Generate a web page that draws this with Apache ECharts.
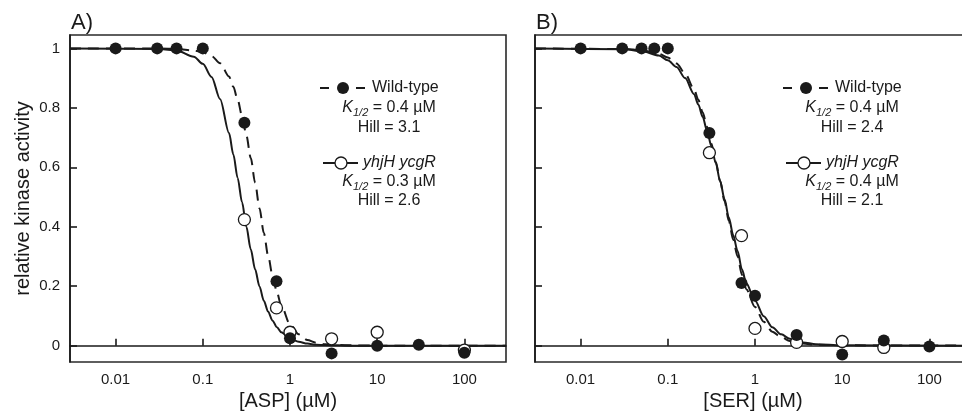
<!DOCTYPE html>
<html>
<head>
<meta charset="utf-8">
<script src="https://cdn.jsdelivr.net/npm/echarts@6.0.0/dist/echarts.min.js"></script>
<style>
html, body { margin: 0; padding: 0; background: #fff; overflow: hidden; }
#main { width: 980px; height: 413px; }
</style>
</head>
<body>
<div id="main"></div>
<script>
var FONT = '"Liberation Sans", Arial, sans-serif';
var INK = '#1a1a1a';

var xTicks = [0.01, 0.1, 1, 10, 100];
var yTicks = [0, 0.2, 0.4, 0.6, 0.8, 1];
var panelNames = ['A)', 'B)'];
var xNames = ['[ASP] (µM)', '[SER] (µM)'];
var seriesNames = ['Wild-type', 'yhjH ycgR'];

// fit parameters printed on the figure
var kHalf = [[0.4, 0.3], [0.4, 0.4]];
var hill = [[3.1, 2.6], [2.4, 2.1]];

// A) ASP - measured points
var aspWtX = [0.01, 0.03, 0.05, 0.1, 0.3, 0.7, 1, 3, 10, 30, 100];
var aspWtY = [1, 1, 1, 1, 0.75, 0.217, 0.025, -0.026, 0.0, 0.003, -0.024];
var aspMutX = [0.3, 0.7, 1, 3, 10, 100];
var aspMutY = [0.424, 0.127, 0.045, 0.023, 0.045, -0.015];

// B) SER - measured points
var serWtX = [0.01, 0.03, 0.05, 0.07, 0.1, 0.3, 0.7, 1, 3, 10, 30, 100];
var serWtY = [1, 1, 1, 1, 1, 0.715, 0.211, 0.168, 0.036, -0.03, 0.017, -0.003];
var serMutX = [0.3, 0.7, 1, 3, 10, 30];
var serMutY = [0.649, 0.37, 0.058, 0.011, 0.014, -0.006];

// fitted curves at these concentrations
var fitX = [0.003, 0.032, 0.05, 0.079, 0.1, 0.126, 0.158, 0.2, 0.224, 0.251, 0.282, 0.316, 0.355, 0.398, 0.447,
            0.501, 0.562, 0.631, 0.708, 0.794, 1, 1.26, 1.58, 2, 2.51, 3.55, 5, 10, 300];
var aspWtFitY = [1, 1, 0.998, 0.993, 0.987, 0.974, 0.95, 0.905, 0.871, 0.827, 0.773, 0.707, 0.631, 0.548, 0.462,
                 0.379, 0.302, 0.235, 0.179, 0.134, 0.072, 0.038, 0.019, 0.01, 0.005, 0.002, 0.001, 0, 0];
var aspMutFitY = [1, 0.998, 0.993, 0.972, 0.948, 0.904, 0.829, 0.715, 0.643, 0.564, 0.482, 0.4, 0.324, 0.257, 0.199,
                  0.151, 0.114, 0.084, 0.062, 0.045, 0.024, 0.013, 0.007, 0.003, 0.002, 0.001, 0, 0, 0];
var serWtFitY = [1, 0.998, 0.994, 0.982, 0.969, 0.949, 0.915, 0.863, 0.827, 0.785, 0.736, 0.68, 0.619, 0.554, 0.487,
                 0.42, 0.356, 0.3, 0.238, 0.19, 0.13, 0.08, 0.047, 0.028, 0.016, 0.007, 0.003, 0.001, 0];
var serMutFitY = [1, 0.997, 0.991, 0.976, 0.96, 0.937, 0.9, 0.846, 0.811, 0.77, 0.723, 0.671, 0.614, 0.554, 0.493,
                  0.431, 0.372, 0.318, 0.257, 0.21, 0.152, 0.099, 0.062, 0.038, 0.023, 0.011, 0.005, 0.001, 0];

var panels = [
  { wt: [aspWtX, aspWtY], mut: [aspMutX, aspMutY], wtFit: aspWtFitY, mutFit: aspMutFitY },
  { wt: [serWtX, serWtY], mut: [serMutX, serMutY], wtFit: serWtFitY, mutFit: serMutFitY }
];

function pairs(xs, ys) {
  return xs.map(function (x, i) { return [x, ys[i]]; });
}

var myChart = echarts.init(document.getElementById('main'));

var grids = [], xAxes = [], yAxes = [], series = [], titles = [];
var gridLeft = [70, 535];

panels.forEach(function (p, i) {
  grids.push({
    left: gridLeft[i], top: 35, width: 436, height: 327,
    show: true, borderColor: '#2a2a2a', borderWidth: 1.6,
    containLabel: false, outerBoundsMode: 'none'
  });
  xAxes.push({
    type: 'log', logBase: 10, gridIndex: i, min: 0.003, max: 300,
    name: xNames[i], nameLocation: 'middle', nameGap: 29,
    nameTextStyle: { fontSize: 20, color: INK, fontFamily: FONT },
    axisLine: { show: true, lineStyle: { color: INK, width: 1.6 } },
    axisTick: { show: true, inside: true, length: 7, customValues: xTicks, lineStyle: { color: INK, width: 1.6 } },
    axisLabel: {
      customValues: xTicks, margin: 10, fontSize: 15, color: INK, fontFamily: FONT,
      formatter: function (v) { return String(+(+v).toPrecision(4)); }
    },
    splitLine: { show: false }
  });
  yAxes.push({
    type: 'value', gridIndex: i, min: -0.055, max: 1.045,
    name: i === 0 ? 'relative kinase activity' : '', nameLocation: 'middle', nameGap: 37,
    nameTextStyle: { fontSize: 20, color: INK, fontFamily: FONT },
    axisLine: { show: true, lineStyle: { color: INK, width: 1.6 } },
    axisTick: { show: true, inside: true, length: 7, customValues: yTicks, lineStyle: { color: INK, width: 1.6 } },
    axisLabel: { show: i === 0, customValues: yTicks, margin: 10, fontSize: 15, color: INK, fontFamily: FONT },
    splitLine: { show: false }
  });
  titles.push({
    text: panelNames[i], left: gridLeft[i] + 1, top: 12, padding: 0,
    textStyle: { fontSize: 22, fontWeight: 'normal', color: INK, fontFamily: FONT }
  });

  series.push({
    name: seriesNames[1] + ' fit ' + i, type: 'line', xAxisIndex: i, yAxisIndex: i,
    data: pairs(fitX, p.mutFit), showSymbol: false, smooth: 0.3, smoothMonotone: 'x',
    lineStyle: { color: INK, width: 2 }, z: 2, silent: true
  });
  series.push({
    name: seriesNames[0] + ' fit ' + i, type: 'line', xAxisIndex: i, yAxisIndex: i,
    data: pairs(fitX, p.wtFit), showSymbol: false, smooth: 0.3, smoothMonotone: 'x',
    lineStyle: { color: INK, width: 2, type: [11, 7] }, z: 2, silent: true
  });
  series.push({
    name: seriesNames[1] + ' ' + i, type: 'scatter', xAxisIndex: i, yAxisIndex: i,
    data: pairs(p.mut[0], p.mut[1]), symbol: 'circle', symbolSize: 12,
    itemStyle: { color: '#fff', borderColor: INK, borderWidth: 1.3, opacity: 1 }, z: 3
  });
  series.push({
    name: seriesNames[0] + ' ' + i, type: 'scatter', xAxisIndex: i, yAxisIndex: i,
    data: pairs(p.wt[0], p.wt[1]), symbol: 'circle', symbolSize: 12,
    itemStyle: { color: INK, opacity: 1 }, z: 4
  });
});

// legend blocks drawn as text + small key symbols
function kText(k) {
  return '{k|K}{s|1/2}{n| = ' + k + ' µM}';
}
var rich = {
  k: { fontSize: 16, fontStyle: 'italic', fontFamily: FONT, fill: INK, lineHeight: 20 },
  s: { fontSize: 11, fontStyle: 'italic', fontFamily: FONT, fill: INK, lineHeight: 12, verticalAlign: 'bottom' },
  n: { fontSize: 16, fontFamily: FONT, fill: INK, lineHeight: 20 }
};
var graphics = [];
var legendOffset = [0, 463];
panels.forEach(function (p, i) {
  var ox = legendOffset[i];
  var cx = 389 + ox;
  // wild-type key: dash, filled dot, dash
  graphics.push({ type: 'line', shape: { x1: 320 + ox, y1: 88, x2: 329 + ox, y2: 88 }, style: { stroke: INK, lineWidth: 2 } });
  graphics.push({ type: 'line', shape: { x1: 356 + ox, y1: 88, x2: 365 + ox, y2: 88 }, style: { stroke: INK, lineWidth: 2 } });
  graphics.push({ type: 'circle', shape: { cx: 343 + ox, cy: 88, r: 6 }, style: { fill: INK } });
  graphics.push({ type: 'text', x: 372 + ox, y: 88, style: { text: seriesNames[0], font: '16px ' + FONT, fill: INK, align: 'left', verticalAlign: 'middle' } });
  graphics.push({ type: 'text', x: cx, y: 108, style: { text: kText(kHalf[i][0]), rich: rich, align: 'center', verticalAlign: 'middle' } });
  graphics.push({ type: 'text', x: cx, y: 128, style: { text: 'Hill = ' + hill[i][0], font: '16px ' + FONT, fill: INK, align: 'center', verticalAlign: 'middle' } });
  // mutant key: line, open dot, line
  graphics.push({ type: 'line', shape: { x1: 323 + ox, y1: 163, x2: 358 + ox, y2: 163 }, style: { stroke: INK, lineWidth: 2 } });
  graphics.push({ type: 'circle', shape: { cx: 341 + ox, cy: 163, r: 6 }, style: { fill: '#fff', stroke: INK, lineWidth: 1.3 } });
  graphics.push({ type: 'text', x: 363 + ox, y: 163, style: { text: seriesNames[1], font: 'italic 16px ' + FONT, fill: INK, align: 'left', verticalAlign: 'middle' } });
  graphics.push({ type: 'text', x: cx, y: 182, style: { text: kText(kHalf[i][1]), rich: rich, align: 'center', verticalAlign: 'middle' } });
  graphics.push({ type: 'text', x: cx, y: 201, style: { text: 'Hill = ' + hill[i][1], font: '16px ' + FONT, fill: INK, align: 'center', verticalAlign: 'middle' } });
});

var option = {
  backgroundColor: '#fff',
  animation: false,
  title: titles,
  grid: grids,
  xAxis: xAxes,
  yAxis: yAxes,
  series: series,
  graphic: graphics
};
myChart.setOption(option);
</script>
</body>
</html>
